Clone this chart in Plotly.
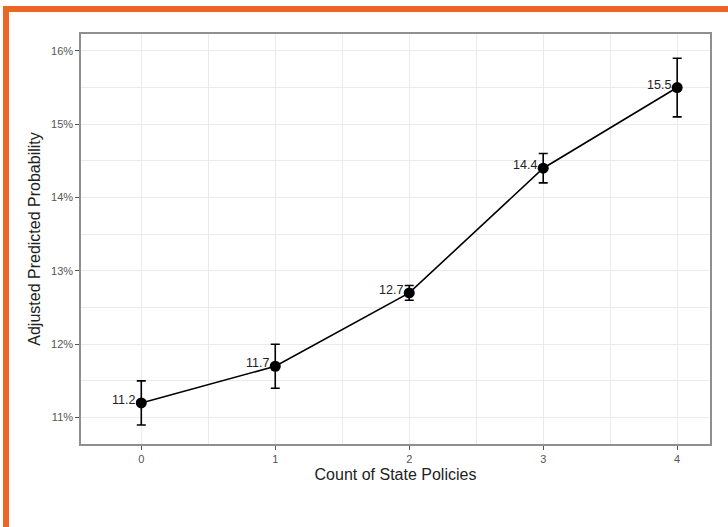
import plotly.graph_objects as go

policies = [0, 1, 2, 3, 4]
prob = [11.2, 11.7, 12.7, 14.4, 15.5]
lower = [10.9, 11.4, 12.6, 14.2, 15.1]
upper = [11.5, 12.0, 12.8, 14.6, 15.9]
labels = ["11.2", "11.7", "12.7", "14.4", "15.5"]
y_ticks = [11, 12, 13, 14, 15, 16]
y_ticktext = ["11%", "12%", "13%", "14%", "15%", "16%"]

W, H = 728, 527
ML, MR, MT, MB = 81, 18, 34, 83
PW, PH = W - ML - MR, H - MT - MB

def px(q):
    return (q - ML) / PW

def py(p):
    return (H - MB - p) / PH

fig = go.Figure()
fig.add_trace(go.Scatter(
    x=policies, y=prob, mode="lines+markers",
    line=dict(color="black", width=1.6),
    marker=dict(color="black", size=11),
    error_y=dict(type="data", symmetric=False,
                 array=[u - v for u, v in zip(upper, prob)],
                 arrayminus=[v - l for v, l in zip(prob, lower)],
                 color="black", thickness=1.6, width=4.5),
    showlegend=False, hoverinfo="skip",
))

for x, y, t in zip(policies, prob, labels):
    fig.add_annotation(x=x, y=y, text=t, showarrow=False, xanchor="right",
                       yanchor="middle", xshift=-4, yshift=3,
                       font=dict(family="Liberation Sans, Arial", size=12.5, color="#222"))

orange = "#EC6527"
fig.add_shape(type="rect", xref="paper", yref="paper",
              x0=px(3), x1=px(W + 5), y0=py(12), y1=py(6),
              fillcolor=orange, line_width=0)
fig.add_shape(type="rect", xref="paper", yref="paper",
              x0=px(3), x1=px(9), y0=py(H + 5), y1=py(6),
              fillcolor=orange, line_width=0)

grid = "#EBEBEB"
fig.update_layout(
    width=W, height=H,
    margin=dict(l=ML, r=MR, t=MT, b=MB),
    paper_bgcolor="white", plot_bgcolor="white",
    font=dict(family="Liberation Sans, Arial", color="#222"),
    xaxis=dict(range=[-0.45, 4.245], tickvals=policies, ticks="outside",
               ticklen=4, tickwidth=1, tickcolor="#555", automargin=False,
               tickfont=dict(size=11, color="#555"),
               showgrid=True, gridcolor=grid, gridwidth=1,
               minor=dict(dtick=0.5, tick0=0, showgrid=True, gridcolor=grid, gridwidth=0.6, ticks=""),
               showline=True, linecolor="#8f8f8f", linewidth=1.5, mirror=True,
               zeroline=False,
               title=dict(text="Count of State Policies", font=dict(size=16, color="#222"), standoff=5)),
    yaxis=dict(range=[10.64, 16.23], tickvals=y_ticks, ticktext=y_ticktext,
               ticks="outside", ticklen=4, tickwidth=1, tickcolor="#555", automargin=False,
               tickfont=dict(size=11, color="#555"),
               showgrid=True, gridcolor=grid, gridwidth=1,
               minor=dict(dtick=0.5, tick0=10.5, showgrid=True, gridcolor=grid, gridwidth=0.6, ticks=""),
               showline=True, linecolor="#8f8f8f", linewidth=1.5, mirror=True,
               zeroline=False,
               title=dict(text="Adjusted Predicted Probability", font=dict(size=16, color="#222"), standoff=6)),
)

fig.write_html("out.html", config={"displayModeBar": False},
               post_script="document.body.style.margin='0';document.body.style.overflow='hidden';")
